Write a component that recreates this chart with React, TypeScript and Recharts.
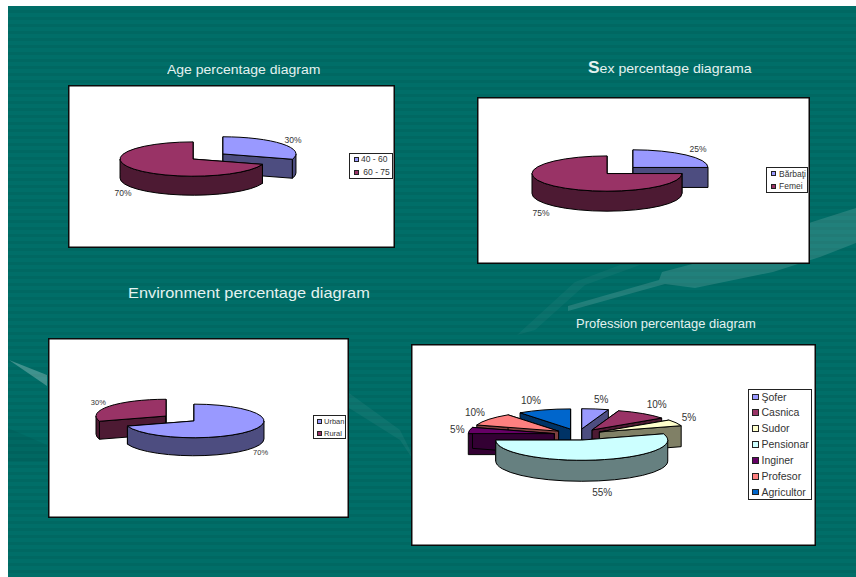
import React from "react";
import { PieChart, Pie, Legend } from "recharts";

const ageNames = ["40 - 60", " 60 - 75"];
const ageValues = [30, 70];
const sexNames = ["Bărbaţi", "Femei"];
const sexValues = [25, 75];
const envNames = ["Urban", "Rural"];
const envValues = [70, 30];
const jobNames = ["Şofer", "Casnica", "Sudor", "Pensionar", "Inginer", "Profesor", "Agricultor"];
const jobValues = [5, 10, 5, 55, 5, 10, 10];

const TOP = { purple: "#9999FF", maroon: "#993366", cream: "#FFFFCC", ice: "#CCFFFF", plum: "#660066", salmon: "#FF8080", blue: "#0066CC" };
const WALL = { purple: "#4D4D80", maroon: "#4D1A33", cream: "#808066", ice: "#668080", plum: "#330033", salmon: "#804040", blue: "#003366" };
const FONT = "'Liberation Sans', Arial, sans-serif";

const rad = (d: number) => (d * Math.PI) / 180;

type Cfg = {
  names: string[]; values: number[]; colors: string[];
  panel: { x: number; y: number; w: number; h: number };
  center: { x: number; y: number };
  radius: number; squash: number; depth: number; explode: number;
  order: number[]; nudges: number[][]; labelSize: number;
  legend: { x: number; y: number; w: number; h: number; size: number; step: number; swatch: number; textX: number; gap: number };
};

const charts: Cfg[] = [
  {
    names: ageNames, values: ageValues, colors: ["purple", "maroon"],
    panel: { x: 68, y: 85, w: 327, h: 163 }, center: { x: 208, y: 156.5 },
    radius: 73, squash: 0.235, depth: 19, explode: 18.5, order: [0, 1],
    nudges: [[11, -4], [-11, 24]], labelSize: 8.5,
    legend: { x: 349, y: 153, w: 44, h: 26, size: 8.5, step: 13, swatch: 5, textX: 11, gap: 2 },
  },
  {
    names: sexNames, values: sexValues, colors: ["purple", "maroon"],
    panel: { x: 477, y: 97, w: 333, h: 167 }, center: { x: 620, y: 170.5 },
    radius: 75, squash: 0.235, depth: 20, explode: 18.4, order: [0, 1],
    nudges: [[12, -6], [-13, 27]], labelSize: 8.5,
    legend: { x: 766, y: 167, w: 42, h: 26, size: 8.5, step: 12.5, swatch: 5, textX: 12, gap: 3 },
  },
  {
    names: envNames, values: envValues, colors: ["purple", "maroon"],
    panel: { x: 48, y: 338, w: 301, h: 180 }, center: { x: 180, y: 418.5 },
    radius: 70, squash: 0.24, depth: 18, explode: 17.3, order: [1, 0],
    nudges: [[10, 22], [-11, -4]], labelSize: 7.5,
    legend: { x: 313, y: 415, w: 33, h: 24, size: 7.5, step: 12, swatch: 5, textX: 10, gap: 2.5 },
  },
  {
    names: jobNames, values: jobValues, colors: ["purple", "maroon", "cream", "ice", "plum", "salmon", "blue"],
    panel: { x: 411, y: 344, w: 405, h: 202 }, center: { x: 578, y: 434.5 },
    radius: 86, squash: 0.235, depth: 21, explode: 24, order: [0, 6, 1, 5, 2, 4, 3],
    nudges: [[6, -9], [14, -9], [13, -5], [7, 32], [-12, -1], [-14, -7], [-13, -9]], labelSize: 10,
    legend: { x: 748, y: 389, w: 64, h: 111, size: 10.5, step: 15.9, swatch: 6.5, textX: 12.5, gap: 3 },
  },
];

const titles = [
  { parts: [["Age percentage diagram", false, 12.5]], x: 167, y: 61, stretch: 1.12 },
  { parts: [["S", true, 16], ["ex percentage diagrama", false, 13]], x: 588, y: 60, stretch: 1.085 },
  { parts: [["Environment percentage diagram", false, 15]], x: 128, y: 285, stretch: 1.09 },
  { parts: [["Profession percentage diagram", false, 12.5]], x: 576, y: 315, stretch: 1.035 },
];

function makeSlice(c: Cfg, rank: number) {
  return (p: any) => {
    if (p.index !== c.order[rank]) return <g />;
    const key = c.colors[p.index] as keyof typeof TOP;
    const rx = p.outerRadius;
    const ry = rx * c.squash;
    const mid = (p.startAngle + p.endAngle) / 2;
    const ax = p.cx + c.explode * Math.cos(rad(mid));
    const ay = p.cy - c.explode * c.squash * Math.sin(rad(mid));
    const pt = (a: number) => [ax + rx * Math.cos(rad(a)), ay - ry * Math.sin(rad(a))];
    const [sx, sy] = pt(p.startAngle);
    const [ex, ey] = pt(p.endAngle);
    const large = p.startAngle - p.endAngle > 180 ? 1 : 0;
    const d = c.depth;
    const top = `M${ax},${ay} L${sx},${sy} A${rx},${ry} 0 ${large} 1 ${ex},${ey} Z`;
    const hi = Math.min(p.startAngle, 0);
    const lo = Math.max(p.endAngle, -180);
    let rim = "";
    if (hi > lo) {
      const [hx, hy] = pt(hi);
      const [lx, ly] = pt(lo);
      const lg = hi - lo > 180 ? 1 : 0;
      rim = `M${hx},${hy} A${rx},${ry} 0 ${lg} 1 ${lx},${ly} L${lx},${ly + d} A${rx},${ry} 0 ${lg} 0 ${hx},${hy + d} Z`;
    }
    const cut = (x: number, y: number) => `M${ax},${ay} L${x},${y} L${x},${y + d} L${ax},${ay + d} Z`;
    const style = { stroke: "#000", strokeWidth: 1, strokeLinejoin: "round" as const };
    return (
      <g>
        <path d={cut(sx, sy)} fill={WALL[key]} {...style} />
        <path d={cut(ex, ey)} fill={WALL[key]} {...style} />
        {rim && <path d={rim} fill={WALL[key]} {...style} />}
        <path d={top} fill={TOP[key]} {...style} />
      </g>
    );
  };
}

function makeLabel(c: Cfg) {
  return (p: any) => {
    const rx = p.outerRadius;
    const ry = rx * c.squash;
    const ax = p.cx + c.explode * Math.cos(rad(p.midAngle));
    const ay = p.cy - c.explode * c.squash * Math.sin(rad(p.midAngle));
    const [nx, ny] = c.nudges[p.index];
    return (
      <text
        x={ax + rx * Math.cos(rad(p.midAngle)) + nx}
        y={ay - ry * Math.sin(rad(p.midAngle)) + ny}
        textAnchor="middle"
        dominantBaseline="central"
        fontFamily={FONT}
        fontSize={c.labelSize}
        fill="#333"
      >
        {Math.round(p.percent * 100)}%
      </text>
    );
  };
}

function makeLegend(c: Cfg) {
  const l = c.legend;
  return () => (
    <div style={{ position: "relative", width: l.w, height: l.h, background: "#fff", border: "1px solid #222", boxSizing: "border-box", fontFamily: FONT, fontSize: l.size, color: "#333" }}>
      {c.names.map((n, i) => {
        const rowY = (l.h - l.step * c.names.length) / 2 + l.step * (i + 0.5) - 1;
        return (
          <React.Fragment key={n}>
            <span style={{ position: "absolute", left: l.textX - l.swatch - l.gap, top: rowY - l.swatch / 2, width: l.swatch, height: l.swatch, boxSizing: "border-box", border: "1px solid #222", background: TOP[c.colors[i] as keyof typeof TOP] }} />
            <span style={{ position: "absolute", left: l.textX, top: rowY - l.size * 0.6, lineHeight: `${l.size * 1.2}px`, whiteSpace: "pre" }}>{n}</span>
          </React.Fragment>
        );
      })}
    </div>
  );
}

function Chart({ c }: { c: Cfg }) {
  const rows = c.names.map((name, i) => ({ name, value: c.values[i] }));
  const l = c.legend;
  return (
    <div style={{ position: "absolute", left: c.panel.x, top: c.panel.y, width: c.panel.w, height: c.panel.h, background: "#fff", boxShadow: "inset 0 0 0 1.5px #0a0a0a" }}>
      <PieChart width={c.panel.w} height={c.panel.h} margin={{ top: 0, right: 0, bottom: 0, left: 0 }}>
        {c.order.map((_, rank) => (
          <Pie
            key={rank}
            data={rows}
            dataKey="value"
            nameKey="name"
            cx={c.center.x - c.panel.x}
            cy={c.center.y - c.panel.y}
            outerRadius={c.radius}
            innerRadius={0}
            startAngle={90}
            endAngle={-270}
            stroke="none"
            isAnimationActive={false}
            shape={makeSlice(c, rank)}
            labelLine={false}
            label={rank === c.order.length - 1 ? makeLabel(c) : false}
          />
        ))}
        <Legend
          layout="vertical"
          align="right"
          verticalAlign="middle"
          content={makeLegend(c)}
          wrapperStyle={{ left: l.x - c.panel.x, top: l.y - c.panel.y, width: l.w, height: l.h, right: "auto", bottom: "auto" }}
        />
      </PieChart>
    </div>
  );
}

export default function App() {
  return (
    <div style={{ position: "absolute", left: 0, top: 0, width: 856, height: 577, background: "#fff", overflow: "hidden" }}>
      <div style={{ position: "absolute", left: 8, top: 6, right: 0, bottom: 0, background: "repeating-linear-gradient(180deg,#006E68 0,#006E68 4px,#006862 4px,#006862 7px)" }} />
      <svg width={856} height={577} style={{ position: "absolute", left: 0, top: 0 }}>
        <path d="M568,311 L568,306 L659,280 L662,272 L700,262 L812,222 L856,208 L856,243 L820,257 L773,272 L695,288 L665,284 Z" fill="#fff" opacity={0.13} />
        <path d="M517,335 L575,282 L620,265 L640,265 L585,285 L535,330 Z" fill="#fff" opacity={0.04} />
        <path d="M9,360 L47,375 L47,386 Z" fill="#fff" opacity={0.25} />
        <path d="M8,428 L47,445 L47,462 L8,462 Z" fill="#000" opacity={0.05} />
        <path d="M349,393 L400,430 L420,470 L400,440 L349,408 Z" fill="#fff" opacity={0.05} />
      </svg>
      {titles.map((t, i) => (
        <div key={i} style={{ position: "absolute", left: t.x, top: t.y, whiteSpace: "nowrap", fontFamily: FONT, color: "#E4F2F0", lineHeight: "16px", transform: `scaleX(${t.stretch})`, transformOrigin: "left center" }}>
          {t.parts.map((s, j) => (
            <span key={j} style={{ fontSize: s[2] as number, fontWeight: s[1] ? 700 : 400 }}>{s[0] as string}</span>
          ))}
        </div>
      ))}
      {charts.map((c, i) => <Chart key={i} c={c} />)}
    </div>
  );
}
